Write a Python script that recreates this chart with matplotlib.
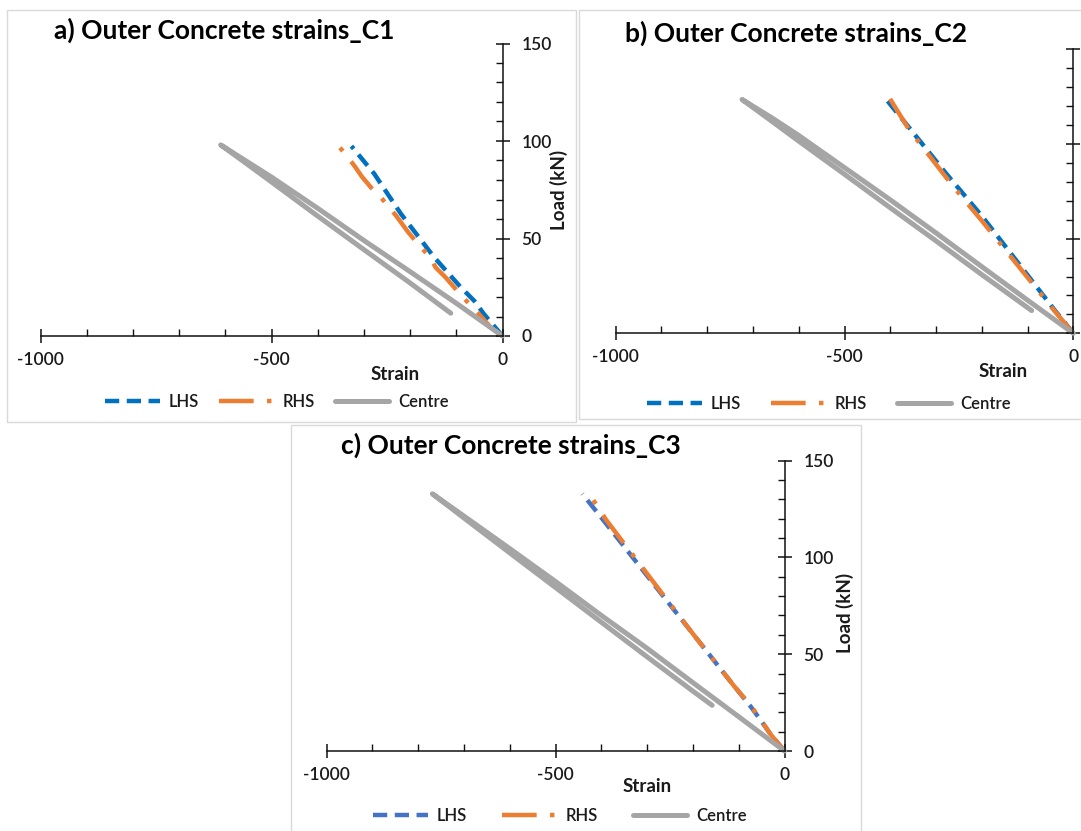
import matplotlib
matplotlib.use("Agg")
import matplotlib.pyplot as plt
from matplotlib.patches import Rectangle
from matplotlib.ticker import MultipleLocator

# ---- data: strain (microstrain) vs load (kN) ----
a_lhs_strain = [0, -40, -61, -90, -148, -220, -278, -327]
a_lhs_load = [0, 11.2, 18, 24.9, 40.4, 62.7, 83.3, 97.4]
a_rhs_strain = [0, -25, -54, -90, -123, -145, -156, -177, -205, -231, -264, -284, -304, -320, -337, -356]
a_rhs_load = [0, 4.3, 12, 21, 30, 35.2, 40.4, 45.5, 53.5, 61.9, 71.3, 76, 81.6, 87.1, 92.3, 97.8]
a_centre_strain = [0, -100, -200, -300, -400, -500, -560, -610, -560, -500, -400, -300, -200, -112]
a_centre_load = [0, 16.8, 33, 49, 65.5, 81.5, 90.5, 98, 89.4, 79, 61.5, 44.3, 27.2, 11.7]

b_lhs_strain = [0, -40, -80, -120, -160, -200, -240, -280, -320, -360, -408]
b_lhs_load = [0, 12, 24.5, 37, 49.5, 62, 73.5, 85, 97, 109, 123.3]
b_rhs_strain = [0, -40, -80, -120, -160, -200, -240, -280, -320, -360, -401]
b_rhs_load = [0, 11.5, 23.5, 35.5, 47.5, 59.5, 71, 83, 95.5, 108, 124]
b_centre_strain = [0, -100, -200, -300, -400, -500, -600, -660, -724, -660, -600, -500, -400, -300, -200, -91]
b_centre_load = [0, 17.5, 35.2, 53, 70.5, 87.5, 104.5, 114, 123.5, 112.2, 101.5, 84, 66.3, 48.8, 31, 12]

c_lhs_strain = [0, -30, -52, -74, -110, -150, -200, -250, -300, -350, -400, -441.5]
c_lhs_load = [0, 8.5, 15.9, 23, 33.5, 45.5, 60.5, 75.5, 90.5, 105.5, 120.5, 132.8]
c_rhs_strain = [0, -30, -74, -110, -150, -200, -250, -300, -350, -390, -427]
c_rhs_load = [0, 8.5, 23.6, 33.5, 45.5, 60.5, 76, 91.5, 107, 119.5, 133]
c_centre_strain = [0, -100, -200, -300, -400, -500, -600, -700, -769, -700, -600, -500, -400, -300, -200, -158]
c_centre_load = [0, 17.7, 35.3, 53, 70, 87.5, 104.5, 121.3, 132.8, 120.3, 102.3, 84.4, 66.5, 48.6, 30.9, 23.6]

series_labels = ["LHS", "RHS", "Centre"]
titles = ["a) Outer Concrete strains_C1", "b) Outer Concrete strains_C2",
          "c) Outer Concrete strains_C3"]
x_ticks = [-1000, -500, 0]
y_ticks = [0, 50, 100, 150]

plt.rcParams["font.family"] = ["Lato", "DejaVu Sans"]
plt.rcParams["axes.unicode_minus"] = False

W, H = 1081, 831
fig = plt.figure(figsize=(W / 100, H / 100), dpi=100)
fig.patch.set_facecolor("white")


def fx(px):
    return px / W


def fy(py):
    return 1 - py / H


def add_frame(x0, y0, x1, y1):
    fig.patches.append(Rectangle((fx(x0), fy(y1)), fx(x1 - x0), (y1 - y0) / H,
                                 transform=fig.transFigure, fill=False,
                                 edgecolor="#D9D9D9", linewidth=1.0, zorder=0))


LHS_DASH = (0, (3.2, 1.7))
RHS_DASH = (0, (7.8, 3.0, 1.0, 3.0))
TXT = "#1a1a1a"


def panel(xl, xr, ytop, ybot, data, lhs_color, title_xy, title, strain_xy,
          load_xy, legend_xy, colspace, show_y_labels=True):
    ax = fig.add_axes([fx(xl), fy(ybot), fx(xr - xl), (ybot - ytop) / H])
    ax.set_facecolor("none")
    (ls, ll), (rs, rl), (cs, cl) = data
    h1, = ax.plot(ls, ll, color=lhs_color, lw=3.2, linestyle=LHS_DASH,
                  clip_on=False)
    h2, = ax.plot(rs, rl, color="#ED7D31", lw=3.2, linestyle=RHS_DASH,
                  clip_on=False)
    h3, = ax.plot(cs, cl, color="#A5A5A5", lw=3.6, clip_on=False,
                  solid_joinstyle="round", solid_capstyle="round")
    ax.set_xlim(-1000, 0)
    ax.set_ylim(0, 150)
    ax.set_xticks(x_ticks)
    ax.set_yticks(y_ticks)
    ax.xaxis.set_minor_locator(MultipleLocator(100))
    ax.yaxis.set_minor_locator(MultipleLocator(10))
    ax.yaxis.tick_right()
    for s in ("top", "left"):
        ax.spines[s].set_visible(False)
    for s in ("bottom", "right"):
        ax.spines[s].set_linewidth(1.1)
        ax.spines[s].set_color("#111111")
    ax.tick_params(axis="both", which="major", direction="inout", length=10,
                   width=1.1, color="#111111", labelsize=12.5, labelcolor=TXT)
    ax.tick_params(axis="both", which="minor", direction="in", length=5,
                   width=1.0, color="#111111")
    ax.tick_params(axis="x", which="major", pad=6.5)
    ax.tick_params(axis="y", which="major", pad=8.5, labelright=show_y_labels)
    for lab in ax.get_xticklabels() + ax.get_yticklabels():
        lab.set_fontweight("semibold")
    fig.text(fx(title_xy[0]), fy(title_xy[1]), title, ha="left", va="center",
             fontsize=19, fontweight="bold", color="black")
    fig.text(fx(strain_xy[0]), fy(strain_xy[1]), "Strain", ha="center",
             va="center", fontsize=13.5, fontweight="bold", color=TXT)
    if load_xy is not None:
        fig.text(fx(load_xy[0]), fy(load_xy[1]), "Load (kN)", ha="center",
                 va="center", rotation=90, fontsize=13.5, fontweight="bold",
                 color=TXT)
    leg = ax.legend([h1, h2, h3], series_labels, ncol=3, frameon=False,
                    loc="center", bbox_to_anchor=(fx(legend_xy[0]), fy(legend_xy[1])),
                    bbox_transform=fig.transFigure,
                    prop={"size": 12, "weight": "semibold"},
                    handlelength=3.25, handletextpad=0.55, columnspacing=colspace,
                    borderaxespad=0, borderpad=0)
    for t in leg.get_texts():
        t.set_color(TXT)
    return ax


add_frame(7.5, 9.5, 576, 421.5)
add_frame(578.5, 9.5, 1095, 418.5)
add_frame(291, 424.5, 861, 845)

panel(40.5, 502.5, 43.5, 336,
      [(a_lhs_strain, a_lhs_load), (a_rhs_strain, a_rhs_load),
       (a_centre_strain, a_centre_load)],
      "#0070C0", (54, 30), titles[0], (395, 375), (559, 190), (277, 402), 1.2)
panel(615.7, 1073.3, 49.3, 333.3,
      [(b_lhs_strain, b_lhs_load), (b_rhs_strain, b_rhs_load),
       (b_centre_strain, b_centre_load)],
      "#0070C0", (625, 33), titles[1], (1003, 371), None, (829, 404), 1.8,
      show_y_labels=False)
panel(326.6, 784.5, 460.5, 751,
      [(c_lhs_strain, c_lhs_load), (c_rhs_strain, c_rhs_load),
       (c_centre_strain, c_centre_load)],
      "#4472C4", (340.6, 445), titles[2], (647, 787), (845, 613), (560, 816), 2.1)

fig.savefig("out.png", dpi=100, facecolor="white")
